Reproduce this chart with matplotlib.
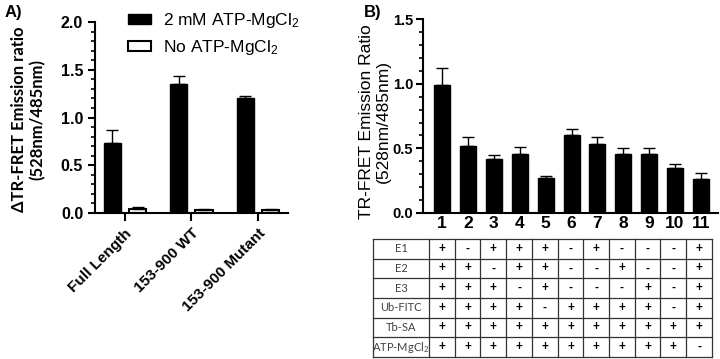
import numpy as np
import matplotlib
matplotlib.use("Agg")
import matplotlib.pyplot as plt
from matplotlib.patches import Patch

plt.rcParams['font.family'] = ['Liberation Sans', 'DejaVu Sans']
plt.rcParams['mathtext.default'] = 'regular'

# Panel A data
groups_a = ['Full Length', '153-900 WT', '153-900 Mutant']
atp_vals = [0.73, 1.35, 1.20]
atp_err = [0.14, 0.08, 0.03]
noatp_vals = [0.04, 0.03, 0.03]
noatp_err = [0.027, 0.008, 0.01]

# Panel B data
cond_b = ['1', '2', '3', '4', '5', '6', '7', '8', '9', '10', '11']
vals_b = [0.99, 0.52, 0.42, 0.46, 0.27, 0.60, 0.53, 0.46, 0.46, 0.35, 0.26]
err_b = [0.13, 0.065, 0.025, 0.05, 0.013, 0.05, 0.055, 0.045, 0.04, 0.03, 0.05]

# Table below panel B
row_names = ['E1', 'E2', 'E3', 'Ub-FITC', 'Tb-SA', 'ATP-MgCl$_2$']
row_marks = [
    '+-+++-+---+',
    '++-++--+--+',
    '+++-+---+-+',
    '++++-++++-+',
    '+++++++++++',
    '++++++++++-',
]

fig = plt.figure(figsize=(7.2, 3.59), dpi=100)

# ---------- Panel A ----------
axA = fig.add_axes([0.1319, 0.4067, 0.268, 0.532])
x = np.arange(len(groups_a))
w = 0.26
axA.bar(x - 0.19, atp_vals, w, color='black', edgecolor='black', linewidth=1)
axA.errorbar(x - 0.19, atp_vals, yerr=[np.zeros(3), atp_err], fmt='none',
             ecolor='black', elinewidth=1, capsize=4, capthick=1)
axA.bar(x + 0.19, noatp_vals, w, color='white', edgecolor='black', linewidth=1.5)
axA.errorbar(x + 0.19, noatp_vals, yerr=[np.zeros(3), noatp_err], fmt='none',
             ecolor='black', elinewidth=1, capsize=4, capthick=1)
axA.set_xlim(-0.45, 2.45)
axA.set_ylim(0, 2.0)
axA.set_yticks([0, 0.5, 1.0, 1.5, 2.0])
axA.set_yticklabels(['0.0', '0.5', '1.0', '1.5', '2.0'], fontweight='bold', fontsize=11.5)
axA.set_yticks(np.arange(0, 2.01, 0.1), minor=True)
axA.set_xticks(x)
axA.set_xticklabels(groups_a, rotation=45, ha='right', rotation_mode='anchor',
                    fontweight='bold', fontsize=11)
axA.tick_params(axis='x', length=6, width=1.5)
axA.tick_params(axis='y', which='major', length=5, width=1.5)
axA.tick_params(axis='y', which='minor', length=3, width=1.2)
for s in ['top', 'right']:
    axA.spines[s].set_visible(False)
for s in ['left', 'bottom']:
    axA.spines[s].set_linewidth(1.5)
axA.set_ylabel('ΔTR-FRET Emission ratio\n(528nm/485nm)', family=['Lato', 'DejaVu Sans'],
               fontweight='bold', fontsize=12, linespacing=1.2)
axA.yaxis.set_label_coords(-0.255, 0.49)

handles = [Patch(facecolor='black', edgecolor='black'),
           Patch(facecolor='white', edgecolor='black', linewidth=1.5)]
fig.legend(handles, ['2 mM ATP-MgCl$_2$', 'No ATP-MgCl$_2$'], loc='upper left',
           bbox_to_anchor=(0.156, 1.012), frameon=False, fontsize=12.5,
           handlelength=1.3, handleheight=0.55, labelspacing=0.45, handletextpad=0.7)

fig.text(0.006, 0.952, 'A)', fontweight='bold', fontsize=12)
fig.text(0.506, 0.952, 'B)', fontweight='bold', fontsize=12)

# ---------- Panel B ----------
axB = fig.add_axes([0.5875, 0.4067, 0.4097, 0.540])
xb = np.arange(len(cond_b))
axB.bar(xb, vals_b, 0.62, color='black', edgecolor='black', linewidth=1)
axB.errorbar(xb, vals_b, yerr=[np.zeros(len(xb)), err_b], fmt='none',
             ecolor='black', elinewidth=1, capsize=4, capthick=1)
axB.set_xlim(-0.74, 10.66)
axB.set_ylim(0, 1.5)
axB.set_yticks([0, 0.5, 1.0, 1.5])
axB.set_yticklabels(['0.0', '0.5', '1.0', '1.5'], fontweight='bold', fontsize=10.5)
axB.set_yticks(np.arange(0, 1.51, 0.1), minor=True)
axB.set_xticks(xb)
axB.set_xticklabels(cond_b, fontweight='bold', fontsize=12.5)
axB.tick_params(axis='x', length=0, pad=2)
axB.tick_params(axis='y', which='major', length=5, width=1.5, pad=2)
axB.tick_params(axis='y', which='minor', length=3, width=1.2)
for s in ['top', 'right']:
    axB.spines[s].set_visible(False)
for s in ['left', 'bottom']:
    axB.spines[s].set_linewidth(1.5)
axB.set_ylabel('TR-FRET Emission Ratio\n(528nm/485nm)', fontsize=12.5,
               linespacing=1.15)
axB.yaxis.set_label_coords(-0.11, 0.47)

# ---------- Table ----------
axT = fig.add_axes([0.518, 0.0056, 0.4708, 0.3287])
axT.set_xlim(-2.68, 10.5)
axT.set_ylim(len(row_names), 0)
axT.axis('off')
lc = '#333333'
for r in range(len(row_names) + 1):
    axT.plot([-2.68, 10.5], [r, r], color=lc, lw=0.9, clip_on=False)
for c in [-2.68] + list(np.arange(-0.5, 10.6, 1.0)):
    axT.plot([c, c], [0, len(row_names)], color=lc, lw=0.9, clip_on=False)
for r, (name, marks) in enumerate(zip(row_names, row_marks)):
    axT.text((-2.68 - 0.5) / 2, r + 0.5, name, ha='center', va='center',
             fontsize=8, color='#404040', family=['Lato', 'DejaVu Sans'])
    for c, m in enumerate(marks):
        axT.text(c, r + 0.5, m, ha='center', va='center', fontsize=8.5,
                 fontweight='bold', color='black')

fig.savefig('out.png', dpi=100)
